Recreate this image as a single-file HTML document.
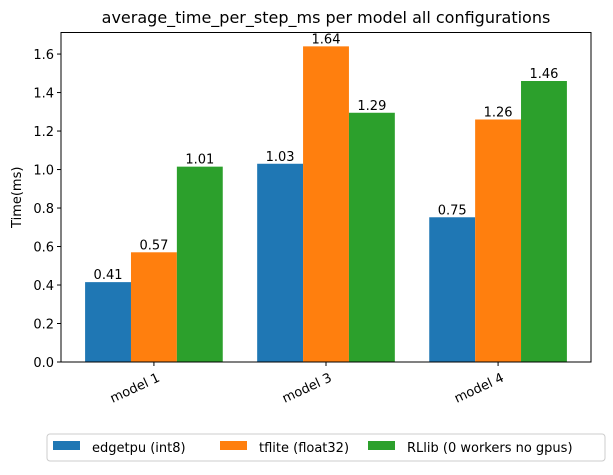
<!DOCTYPE html>
<html><head><meta charset="utf-8"><style>
body{margin:0;background:#fff;}
svg text{font-family:"DejaVu Sans","Liberation Sans",sans-serif;fill:#000;}
</style></head><body>
<svg id="chart" width="613" height="470" xmlns="http://www.w3.org/2000/svg">
<rect width="613" height="470" fill="#fff"/>
<text x="326" y="23" text-anchor="middle" font-size="16">average_time_per_step_ms per model all configurations</text>
<g id="plot"></g>
<g id="legend">
<rect x="47" y="434" width="558" height="27" rx="3" fill="#fff" stroke="#ccc"/>
</g>
</svg>
<script>
const categories=["model 1","model 3","model 4"];
const seriesNames=["edgetpu (int8)","tflite (float32)","RLlib (0 workers no gpus)"];
const edgetpu=[0.415,1.03,0.752];
const tflite=[0.57,1.64,1.26];
const rllib=[1.015,1.295,1.46];
const yTicks=[0.0,0.2,0.4,0.6,0.8,1.0,1.2,1.4,1.6];
const colors=["#1f77b4","#ff7f0e","#2ca02c"];
const NS="http://www.w3.org/2000/svg";
const L=61,R=591,T=32.5,B=362,ymax=1.712;
const xmin=-0.54,xmax=2.54;
const sx=v=>L+(v-xmin)/(xmax-xmin)*(R-L);
const sy=v=>B-v/ymax*(B-T);
const plot=document.getElementById('plot');
function mk(tag,attrs,parent){const e=document.createElementNS(NS,tag);for(const k in attrs)e.setAttribute(k,attrs[k]);(parent||plot).appendChild(e);return e;}
const series=[edgetpu,tflite,rllib];
const w=0.8/3;
series.forEach((s,si)=>{s.forEach((v,ci)=>{
 const x0=sx(ci-0.4+si*w),x1=sx(ci-0.4+(si+1)*w);
 const r=mk('rect',{x:x0,y:sy(v),width:x1-x0,height:B-sy(v),fill:colors[si]});
 
 
 const t=mk('text',{x:(x0+x1)/2,y:sy(v)-3,'text-anchor':'middle','font-size':'13'});
 t.textContent=v.toFixed(2);
 
 
});});
const frame=mk('rect',{x:L,y:T,width:R-L,height:B-T,fill:'none',stroke:'#000','stroke-width':1});


yTicks.forEach(v=>{
 mk('line',{x1:L-4,x2:L,y1:sy(v),y2:sy(v),stroke:'#000'});
 const t=mk('text',{x:L-7,y:sy(v)+5,'text-anchor':'end','font-size':'13'});
 t.textContent=v.toFixed(1);
 
 
});
categories.forEach((c,i)=>{
 const x=sx(i);
 mk('line',{x1:x,x2:x,y1:B,y2:B+4,stroke:'#000'});
 const t=mk('text',{x:x+5,y:B+19,'text-anchor':'end','font-size':'13',transform:`rotate(-25 ${x+5} ${B+15})`});
 t.textContent=c;
 
 
});
const yt=mk('text',{x:21,y:(T+B)/2,'text-anchor':'middle','font-size':'13',transform:`rotate(-90 21 ${(T+B)/2})`});
yt.textContent="Time(ms)";


const lg=document.getElementById('legend');
const lx=[53,220,368];
seriesNames.forEach((n,i)=>{
 const r=mk('rect',{x:lx[i],y:441,width:27,height:9,fill:colors[i]},lg);
 
 
 const t=mk('text',{x:lx[i]+39,y:452,'font-size':'13'},lg);
 t.textContent=n;
 
 
});
</script>
</body></html>
